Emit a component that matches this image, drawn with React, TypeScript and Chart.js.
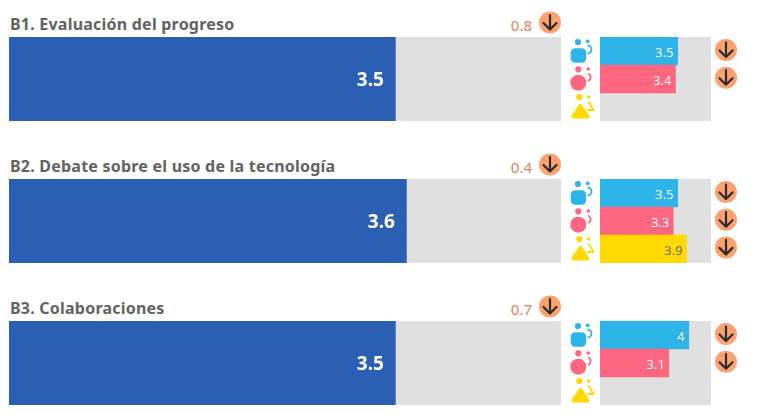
import React, { useEffect, useRef } from "react";
import { Chart, registerables } from "chart.js";

Chart.register(...registerables);

const titles = ["B1. Evaluación del progreso", "B2. Debate sobre el uso de la tecnología", "B3. Colaboraciones"];
const overallValues = [3.5, 3.6, 3.5];
const overallLabels = ["3.5", "3.6", "3.5"];
const gaps = ["0.8", "0.4", "0.7"];
const groups = ["Hombres", "Mujeres", "Otros"];
const groupValues: (number | null)[][] = [
  [3.5, 3.4, null],
  [3.5, 3.3, 3.9],
  [4, 3.1, null],
];
const groupLabels = [
  ["3.5", "3.4", ""],
  ["3.5", "3.3", "3.9"],
  ["4", "3.1", ""],
];
const scaleMax = 5;
const groupColors = ["#2DB4E8", "#FF6680", "#FFD900"];
const groupTextColors = ["#ffffff", "#ffffff", "#6b6b4a"];
const FONT = "'Noto Sans', sans-serif";
const PANEL_STEP = 142;
const PANEL_TOP = 37;

const labelPlugin = {
  id: "valueLabels",
  afterDatasetsDraw(chart: any, _a: any, opts: any) {
    const { ctx } = chart;
    const meta = chart.getDatasetMeta(1);
    ctx.save();
    ctx.font = opts.font;
    ctx.textAlign = "right";
    ctx.textBaseline = "middle";
    meta.data.forEach((bar: any, i: number) => {
      const text = opts.labels[i];
      if (!text) return;
      ctx.fillStyle = opts.colors[i];
      ctx.fillText(text, bar.x - opts.inset, bar.y + 2);
    });
    ctx.restore();
  },
};

function BarChart(props: {
  left: number; top: number; width: number; height: number;
  categories: string[]; values: (number | null)[]; colors: string[];
  labels: string[]; labelColors: string[]; font: string; inset: number;
}) {
  const ref = useRef<HTMLCanvasElement>(null);
  useEffect(() => {
    const chart = new Chart(ref.current as HTMLCanvasElement, {
      type: "bar",
      data: {
        labels: props.categories,
        datasets: [
          {
            label: "Escala",
            data: props.categories.map(() => scaleMax),
            backgroundColor: "#E0E0E0",
            order: 2,
            grouped: false,
            categoryPercentage: 1,
            barPercentage: 1,
          } as any,
          {
            label: "Valor",
            data: props.values,
            backgroundColor: props.colors,
            order: 1,
            grouped: false,
            categoryPercentage: 1,
            barPercentage: 1,
          } as any,
        ],
      },
      options: {
        indexAxis: "y",
        animation: false,
        responsive: false,
        events: [],
        layout: { padding: 0 },
        scales: {
          x: { min: 0, max: scaleMax, display: false },
          y: { display: false },
        },
        plugins: {
          legend: { display: false },
          tooltip: { enabled: false },
          valueLabels: { labels: props.labels, colors: props.labelColors, font: props.font, inset: props.inset },
        } as any,
      },
      plugins: [labelPlugin],
    });
    return () => chart.destroy();
  }, []);
  return (
    <canvas
      ref={ref}
      width={props.width}
      height={props.height}
      style={{ position: "absolute", left: props.left, top: props.top, width: props.width, height: props.height }}
    />
  );
}

function Badge({ cx, cy }: { cx: number; cy: number }) {
  return (
    <g>
      <circle cx={cx} cy={cy} r={11} fill="#FBA26F" />
      <path
        d={`M${cx} ${cy - 7.5}V${cy + 7} M${cx - 6.5} ${cy + 0.5}L${cx} ${cy + 7}L${cx + 6.5} ${cy + 0.5}`}
        fill="none"
        stroke="#2b2b2b"
        strokeWidth={2.2}
        strokeLinecap="round"
        strokeLinejoin="round"
      />
    </g>
  );
}

function Icons({ top }: { top: number }) {
  return (
    <g transform={`translate(0 ${top})`}>
      <g fill={groupColors[0]}>
        <circle cx={578} cy={5} r={3.1} />
        <circle cx={587.7} cy={4.3} r={1.9} />
        <rect x={570.7} y={11.3} width={15.5} height={14.5} rx={4.5} />
        <path d="M587.5 8.5a4 4 0 0 1 0 8" fill="none" stroke={groupColors[0]} strokeWidth={1.8} />
      </g>
      <g fill={groupColors[1]}>
        <circle cx={578.3} cy={32.3} r={3.1} />
        <circle cx={588.3} cy={32} r={1.8} />
        <circle cx={578.3} cy={45.7} r={8} />
        <path d="M588 36.5a4 4 0 0 1 0 7.5" fill="none" stroke={groupColors[1]} strokeWidth={1.8} />
      </g>
      <g fill={groupColors[2]}>
        <circle cx={579.3} cy={60} r={3.1} />
        <circle cx={588.7} cy={60} r={1.8} />
        <path d="M580.5 69L587.5 79.5H573.5Z" stroke={groupColors[2]} strokeWidth={4} strokeLinejoin="round" />
        <path d="M588.5 64.5L593.5 73H587" fill="none" stroke={groupColors[2]} strokeWidth={1.8} />
      </g>
    </g>
  );
}

export default function App() {
  return (
    <div style={{ position: "absolute", left: 0, top: 0, width: 757, height: 414, background: "#fff", overflow: "hidden", fontFamily: FONT }}>
      {titles.map((title, i) => {
        const top = PANEL_TOP + i * PANEL_STEP;
        return (
          <React.Fragment key={title}>
            <div style={{ position: "absolute", left: 10, top: top - 25, fontSize: 16, fontWeight: 700, letterSpacing: 0.22, color: "#636363", lineHeight: "24px", whiteSpace: "nowrap" }}>
              {title}
            </div>
            <div style={{ position: "absolute", right: 757 - 532, top: top - 23.5, fontSize: 15, color: "#E07F5C", lineHeight: "22px" }}>
              {gaps[i]}
            </div>
            <BarChart
              left={9} top={top} width={552} height={84}
              categories={[title]} values={[overallValues[i]]} colors={["#2A5FB4"]}
              labels={[overallLabels[i]]} labelColors={["#ffffff"]}
              font={`700 19px ${FONT}`} inset={11.5}
            />
            <BarChart
              left={600} top={top} width={111} height={84}
              categories={groups} values={groupValues[i]} colors={groupColors}
              labels={groupLabels[i]} labelColors={groupTextColors}
              font={`400 13px ${FONT}`} inset={4}
            />
          </React.Fragment>
        );
      })}
      <svg width={757} height={414} style={{ position: "absolute", left: 0, top: 0, pointerEvents: "none" }}>
        {titles.map((t, i) => {
          const top = PANEL_TOP + i * PANEL_STEP;
          return (
            <g key={t}>
              <Icons top={top} />
              <Badge cx={550} cy={top - 14.5} />
              {groupValues[i].map((v, j) =>
                v === null ? null : <Badge key={j} cx={726} cy={top + 13 + j * 27.7} />
              )}
            </g>
          );
        })}
      </svg>
    </div>
  );
}
